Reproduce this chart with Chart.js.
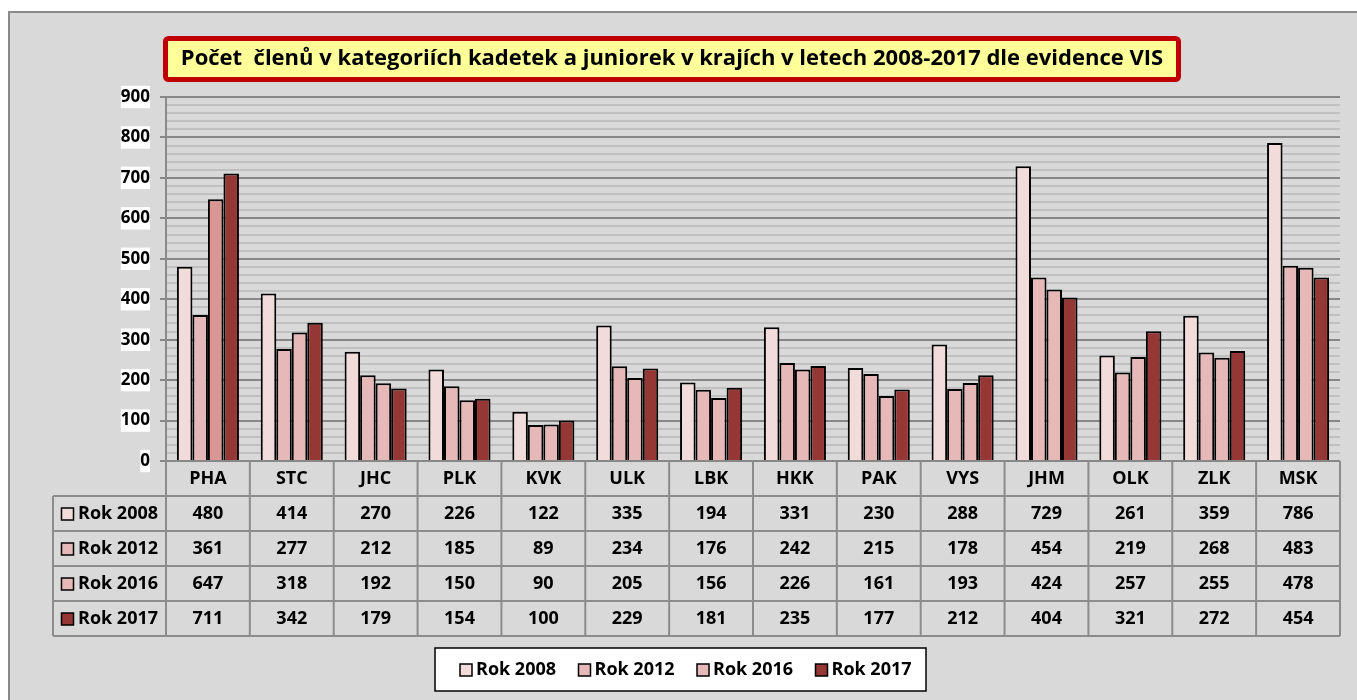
<!DOCTYPE html>
<html>
<head>
<meta charset="utf-8">
<script src="https://cdn.jsdelivr.net/npm/chart.js@4/dist/chart.umd.min.js"></script>
<style>
  html, body { margin: 0; padding: 0; background: #fff; overflow: hidden; }
</style>
</head>
<body>
<canvas id="chart" width="1357" height="700"></canvas>
<script>
const chartTitle = 'Počet  členů v kategoriích kadetek a juniorek v krajích v letech 2008-2017 dle evidence VIS';
const regions = ['PHA', 'STC', 'JHC', 'PLK', 'KVK', 'ULK', 'LBK', 'HKK', 'PAK', 'VYS', 'JHM', 'OLK', 'ZLK', 'MSK'];
const seriesNames = ['Rok 2008', 'Rok 2012', 'Rok 2016', 'Rok 2017'];
const rok2008 = [480, 414, 270, 226, 122, 335, 194, 331, 230, 288, 729, 261, 359, 786];
const rok2012 = [361, 277, 212, 185, 89, 234, 176, 242, 215, 178, 454, 219, 268, 483];
const rok2016 = [647, 318, 192, 150, 90, 205, 156, 226, 161, 193, 424, 257, 255, 478];
const rok2017 = [711, 342, 179, 154, 100, 229, 181, 235, 177, 212, 404, 321, 272, 454];
const yMax = 900;
const yMajor = 100;
const yMinor = 20;

const FONT = '"Open Sans", "Liberation Sans", sans-serif';
const colors = ['#f2dcdb', '#e6b9b8', '#e6b9b8', '#953735'];
// PHA 2016 bar is formatted a bit darker in the original
const colors2016 = regions.map((r, i) => i === 0 ? '#da9694' : colors[2]);

// gray frame behind everything
const background = {
  id: 'background',
  beforeDraw(chart) {
    const c = chart.ctx;
    c.save();
    c.fillStyle = '#fff';
    c.fillRect(0, 0, chart.width, chart.height);
    c.fillStyle = '#d9d9d9';
    c.fillRect(8, 11, chart.width, chart.height);
    c.strokeStyle = '#8a8a8a';
    c.lineWidth = 2;
    c.beginPath();
    c.moveTo(9, chart.height);
    c.lineTo(9, 12);
    c.lineTo(chart.width, 12);
    c.stroke();
    c.restore();
  }
};

// title box + data table + legend
const extras = {
  id: 'extras',
  afterDraw(chart) {
    const c = chart.ctx;
    const area = chart.chartArea;
    const x = chart.scales.x;
    c.save();

    // title
    c.fillStyle = '#ffff99';
    c.strokeStyle = '#c00000';
    c.lineWidth = 5;
    c.beginPath();
    c.roundRect(165.5, 38.5, 1013, 41, 3);
    c.fill();
    c.stroke();
    c.fillStyle = '#000';
    c.font = 'bold 22px ' + FONT;
    c.textAlign = 'center';
    c.textBaseline = 'middle';
    c.fillText(chartTitle, 672, 59);

    // data table
    const colW = (area.right - area.left) / regions.length;
    const top = area.bottom;
    const rowH = 35;
    const tableLeft = 53;
    const rows = chart.data.datasets.length;
    c.strokeStyle = '#8c8c8c';
    c.lineWidth = 2;
    c.beginPath();
    for (let i = 0; i <= regions.length; i++) {
      const px = area.left + i * colW;
      c.moveTo(px, top);
      c.lineTo(px, top + rowH * (rows + 1));
    }
    c.moveTo(tableLeft, top + rowH);
    c.lineTo(tableLeft, top + rowH * (rows + 1));
    for (let r = 1; r <= rows + 1; r++) {
      c.moveTo(tableLeft, top + r * rowH);
      c.lineTo(area.right, top + r * rowH);
    }
    c.stroke();

    c.fillStyle = '#000';
    c.font = 'bold 18px ' + FONT;
    c.textAlign = 'center';
    regions.forEach((r, i) => {
      c.fillText(r, x.getPixelForValue(i), top + rowH / 2);
    });
    chart.data.datasets.forEach((ds, r) => {
      const cy = top + rowH * (r + 1) + rowH / 2;
      ds.data.forEach((v, i) => {
        c.fillStyle = '#000';
        c.textAlign = 'center';
        c.fillText(String(v), x.getPixelForValue(i), cy);
      });
      c.fillStyle = colors[r];
      c.fillRect(61.5, cy - 5.5, 12, 12);
      c.strokeStyle = '#000';
      c.lineWidth = 1.5;
      c.strokeRect(61.5, cy - 5.5, 12, 12);
      c.fillStyle = '#000';
      c.textAlign = 'left';
      c.fillText(ds.label, 78, cy);
    });

    // legend
    c.fillStyle = '#fff';
    c.fillRect(435, 648, 491, 43);
    c.strokeStyle = '#000';
    c.lineWidth = 1.5;
    c.strokeRect(435, 648, 491, 43);
    c.font = 'bold 18px ' + FONT;
    c.textAlign = 'left';
    chart.data.datasets.forEach((ds, r) => {
      const lx = 460 + r * 118.5;
      c.fillStyle = colors[r];
      c.fillRect(lx, 664, 12, 12);
      c.strokeStyle = '#000';
      c.strokeRect(lx, 664, 12, 12);
      c.fillStyle = '#000';
      c.fillText(ds.label, lx + 16, 670);
    });
    c.restore();
  }
};

const seriesData = [rok2008, rok2012, rok2016, rok2017];

new Chart(document.getElementById('chart'), {
  type: 'bar',
  data: {
    labels: regions,
    datasets: seriesNames.map((name, i) => ({
      label: name,
      data: seriesData[i],
      backgroundColor: i === 2 ? colors2016 : colors[i],
      borderColor: '#000',
      borderWidth: 2,
      borderSkipped: 'bottom',
      categoryPercentage: 0.74,
      barPercentage: 1.0
    }))
  },
  options: {
    responsive: false,
    animation: false,
    layout: { padding: { left: 0, top: 97, right: 17, bottom: 239 } },
    plugins: {
      legend: { display: false },
      title: { display: false },
      tooltip: { enabled: false }
    },
    scales: {
      x: { display: false },
      y: {
        min: 0,
        max: yMax,
        afterFit(scale) { scale.width = 166; },
        border: { color: '#8a8a8a', width: 2 },
        grid: {
          color: ctx => ctx.tick.value % yMajor === 0 ? '#878787' : '#c0c0c0',
          lineWidth: 2,
          tickLength: 6,
          tickColor: ctx => ctx.tick.value % yMajor === 0 ? '#878787' : 'rgba(0,0,0,0)'
        },
        ticks: {
          stepSize: yMinor,
          autoSkip: false,
          padding: 10,
          color: '#000',
          font: { family: FONT, size: 17, weight: 'bold' },
          callback: v => v % yMajor === 0 ? v : '',
          showLabelBackdrop: ctx => ctx.tick.value % yMajor === 0,
          backdropColor: '#fff',
          backdropPadding: { top: 1, bottom: 1, left: 0, right: 0 }
        }
      }
    }
  },
  plugins: [background, extras]
});
</script>
</body>
</html>
